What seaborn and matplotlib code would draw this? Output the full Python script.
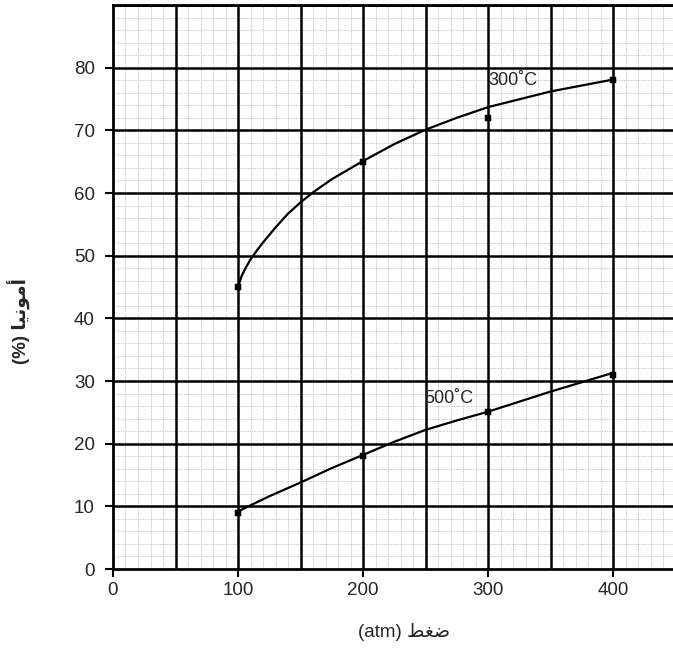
import numpy as np
import pandas as pd
import matplotlib
matplotlib.use("Agg")
import matplotlib.pyplot as plt
import seaborn as sns

# Values (pressure in atm, ammonia in %)
curve_p_300 = [100, 103, 106, 110, 115, 120, 130, 140, 150, 160, 175, 200, 225, 250, 275, 300, 350, 400]
curve_y_300 = [45, 46.8, 48.0, 49.4, 50.8, 52.1, 54.5, 56.7, 58.5, 60.1, 62.2, 65.1, 67.8, 70.1, 72.0, 73.7, 76.2, 78.1]
points_p_300 = [100, 200, 300, 400]
points_y_300 = [45, 65, 72, 78]

curve_p_500 = [100, 125, 150, 175, 200, 225, 250, 275, 300, 350, 400]
curve_y_500 = [9.2, 11.6, 13.8, 16.1, 18.2, 20.3, 22.2, 23.7, 25.1, 28.3, 31.3]
points_p_500 = [100, 200, 300, 400]
points_y_500 = [9, 18, 25, 31]

x_ticks = [0, 100, 200, 300, 400]
y_ticks = [0, 10, 20, 30, 40, 50, 60, 70, 80]

# Arabic written with presentation forms in visual order (matplotlib has no shaping)
ammonia_ar = "\uFE8E\uFEF4\uFEE7\uFEEE\uFEE3\uFE83"   # أمونيا
pressure_ar = "\uFEC2\uFED0\uFEBF"                    # ضغط

curves = pd.concat([
    pd.DataFrame({'p': curve_p_300, 'y': curve_y_300, 'T': '300'}),
    pd.DataFrame({'p': curve_p_500, 'y': curve_y_500, 'T': '500'}),
])
points = pd.concat([
    pd.DataFrame({'p': points_p_300, 'y': points_y_300, 'T': '300'}),
    pd.DataFrame({'p': points_p_500, 'y': points_y_500, 'T': '500'}),
])

sns.set_style("white")
plt.rcParams['font.family'] = ['Liberation Sans', 'DejaVu Sans']

fig = plt.figure(figsize=(6.73, 6.52), dpi=100)
ax = fig.add_axes([113 / 673, 83 / 652, 560 / 673, 564 / 652])

# graph-paper grid
ax.set_xticks(np.arange(0, 451, 10), minor=True)
ax.set_yticks(np.arange(0, 91, 2), minor=True)
ax.grid(which='minor', color='#b4b4b4', linewidth=0.5, linestyle=(0, (2, 1.5)))
for gx in np.arange(50, 451, 50):
    ax.axvline(gx, color='black', linewidth=1.8, zorder=1)
for gy in np.arange(10, 91, 10):
    ax.axhline(gy, color='black', linewidth=1.8, zorder=1)

sns.lineplot(data=curves, x='p', y='y', units='T', estimator=None, sort=False,
             color='black', linewidth=1.6, ax=ax, zorder=3)
sns.scatterplot(data=points, x='p', y='y', marker='s', s=18, color='black',
                edgecolor='black', ax=ax, zorder=4, legend=False)

ax.text(300, 76.6, "300\u02daC", fontsize=13, ha='left', va='bottom')
ax.text(249, 25.9, "500\u02daC", fontsize=13, ha='left', va='bottom')

ax.set_xlim(0, 448)
ax.set_ylim(0, 90)
ax.set_xticks(x_ticks)
ax.set_yticks(y_ticks)
ax.tick_params(axis='both', which='major', labelsize=13.5, length=6, width=1.5,
               color='black', direction='out', left=True, bottom=True)
ax.tick_params(which='minor', length=0)
ax.tick_params(axis='y', pad=7)

for side in ['left', 'bottom', 'top']:
    ax.spines[side].set_color('black')
    ax.spines[side].set_linewidth(2)
ax.spines['right'].set_visible(False)

ax.set_xlabel("(atm) " + pressure_ar, fontsize=13.5)
ax.set_ylabel("(%) " + ammonia_ar, fontsize=13.5, fontweight='bold')
ax.yaxis.set_label_coords(-0.148, 0.44)
ax.xaxis.set_label_coords(0.52, -0.095)

fig.savefig('out.png', dpi=100)
